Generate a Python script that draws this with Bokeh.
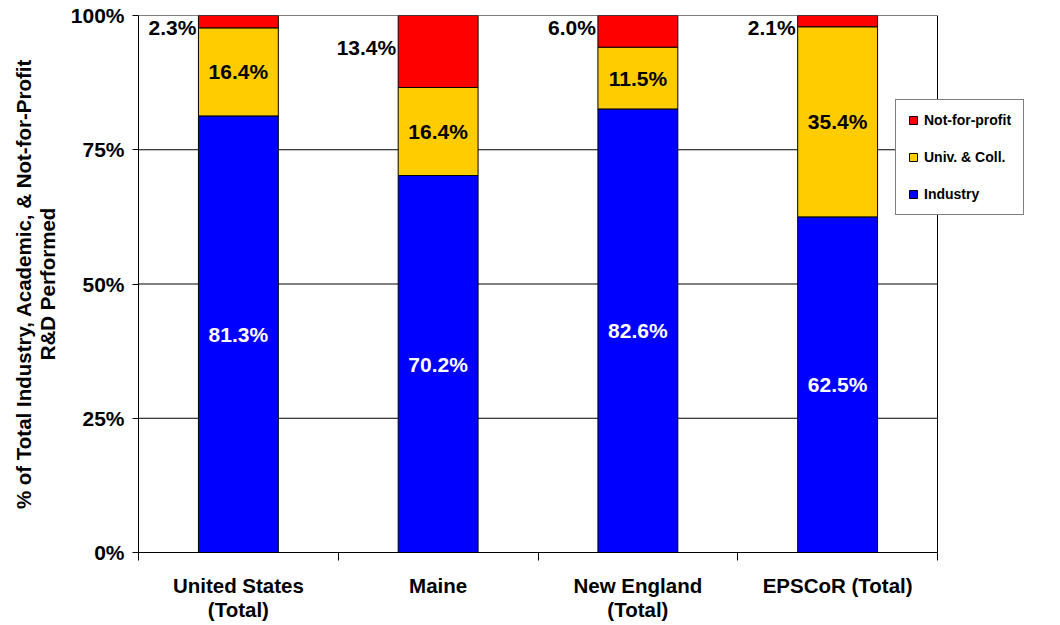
from bokeh.plotting import figure
from bokeh.models import (ColumnDataSource, FixedTicker, Legend, LegendItem, Range1d, Span)
from bokeh.core.properties import value
from bokeh.embed import file_html
from bokeh.resources import INLINE

categories = ["United States\n(Total)", "Maine", "New England\n(Total)", "EPSCoR (Total)"]
industry = [81.3, 70.2, 82.6, 62.5]
univ = [16.4, 16.4, 11.5, 35.4]
nfp = [2.3, 13.4, 6.0, 2.1]
y_ticks = [0, 25, 50, 75, 100]

FONT = "Liberation Sans"
BLUE, YELLOW, RED = "#0000FF", "#FFCC00", "#FF0000"
BAR_W = 0.4

# layout (pixels)
FIG_W, FIG_H = 1050, 623
LEFT, TOP, BOTTOM_Y = 138, 15, 552
PLOT_W = 799                 # width of the bordered plot area
RIGHT_BORDER = 10
frame_w = FIG_W - LEFT - RIGHT_BORDER
n = len(categories)
x_end = n * frame_w / PLOT_W

xs = [i + 0.5 for i in range(n)]
src = ColumnDataSource(dict(x=xs, industry=industry, univ=univ, nfp=nfp))

p = figure(width=FIG_W, height=FIG_H, output_backend="svg", toolbar_location=None,
           x_range=Range1d(0, x_end), y_range=Range1d(0, 100),
           min_border_left=LEFT, min_border_right=RIGHT_BORDER, min_border_top=TOP,
           min_border_bottom=FIG_H - BOTTOM_Y)
p.outline_line_color = None
p.xgrid.grid_line_color = None
p.ygrid.grid_line_color = None

# horizontal grid lines only across the plot area
p.segment(x0=[0] * len(y_ticks), x1=[n] * len(y_ticks), y0=y_ticks, y1=y_ticks,
          line_color="black", line_width=1, level="underlay")
p.add_layout(Span(location=n, dimension="height", line_color="black", line_width=1))

rs = p.vbar_stack(["industry", "univ", "nfp"], x="x", width=BAR_W, source=src,
                  color=[BLUE, YELLOW, RED], line_color="black", line_width=1)

# labels
ind_mid = [v / 2 for v in industry]
univ_mid = [a + b / 2 for a, b in zip(industry, univ)]
nfp_mid = [min(a + b + c / 2 + 0.8, 97.8) for a, b, c in zip(industry, univ, nfp)]
lab = ColumnDataSource(dict(
    x=xs, xl=[x - BAR_W / 2 for x in xs],
    ind_y=ind_mid, univ_y=univ_mid, nfp_y=nfp_mid,
    ind_t=[f"{v:.1f}%" for v in industry],
    univ_t=[f"{v:.1f}%" for v in univ],
    nfp_t=[f"{v:.1f}%" for v in nfp]))
common = dict(text_font=value(FONT), text_font_style="bold", text_font_size="21px",
              text_baseline="middle", source=lab)
p.text(x="x", y="ind_y", text="ind_t", text_color="white", text_align="center", **common)
p.text(x="x", y="univ_y", text="univ_t", text_color="black", text_align="center", **common)
p.text(x="xl", y="nfp_y", text="nfp_t", text_color="black", text_align="right",
       x_offset=-2, **common)

# axes
xa = p.xaxis[0]
xa.bounds = (0, n)
xa.ticker = FixedTicker(ticks=xs, minor_ticks=list(range(n + 1)))
xa.major_label_overrides = {x: c for x, c in zip(xs, categories)}
xa.major_tick_out = 0
xa.major_tick_in = 0
xa.minor_tick_out = 8
xa.minor_tick_in = 0
xa.minor_tick_line_color = "black"
xa.axis_line_color = "black"
xa.major_label_text_font = FONT
xa.major_label_text_font_style = "bold"
xa.major_label_text_font_size = "20.5px"
xa.major_label_text_line_height = 1.05
xa.major_label_text_color = "black"
xa.major_label_standoff = 13

ya = p.yaxis[0]
ya.ticker = FixedTicker(ticks=y_ticks, minor_ticks=[])
ya.major_label_overrides = {t: f"{t}%" for t in y_ticks}
ya.major_tick_out = 6
ya.major_tick_in = 0
ya.major_tick_line_color = "black"
ya.axis_line_color = "black"
ya.major_label_text_font = FONT
ya.major_label_text_font_style = "bold"
ya.major_label_text_font_size = "21px"
ya.major_label_text_color = "black"
ya.major_label_standoff = 8
ya.axis_label = "% of Total Industry, Academic, & Not-for-Profit\nR&D Performed"
ya.axis_label_text_font = FONT
ya.axis_label_text_font_style = "bold"
ya.axis_label_text_font_size = "20.5px"
ya.axis_label_text_line_height = 1.05
ya.axis_label_text_color = "black"
ya.axis_label_standoff = 9

legend = Legend(items=[LegendItem(label="Not-for-profit", renderers=[rs[2]]),
                       LegendItem(label="Univ. & Coll.", renderers=[rs[1]]),
                       LegendItem(label="Industry", renderers=[rs[0]])],
                location=(757, 337), border_line_color="black", border_line_width=1,
                background_fill_color="white", background_fill_alpha=1,
                label_text_font=FONT, label_text_font_style="bold",
                label_text_font_size="14px", label_text_color="black",
                glyph_width=10, glyph_height=10,
                label_height=12, spacing=21, padding=12, margin=0, label_standoff=6)
p.add_layout(legend, "center")

open("out.html", "w").write(file_html(p, INLINE))
